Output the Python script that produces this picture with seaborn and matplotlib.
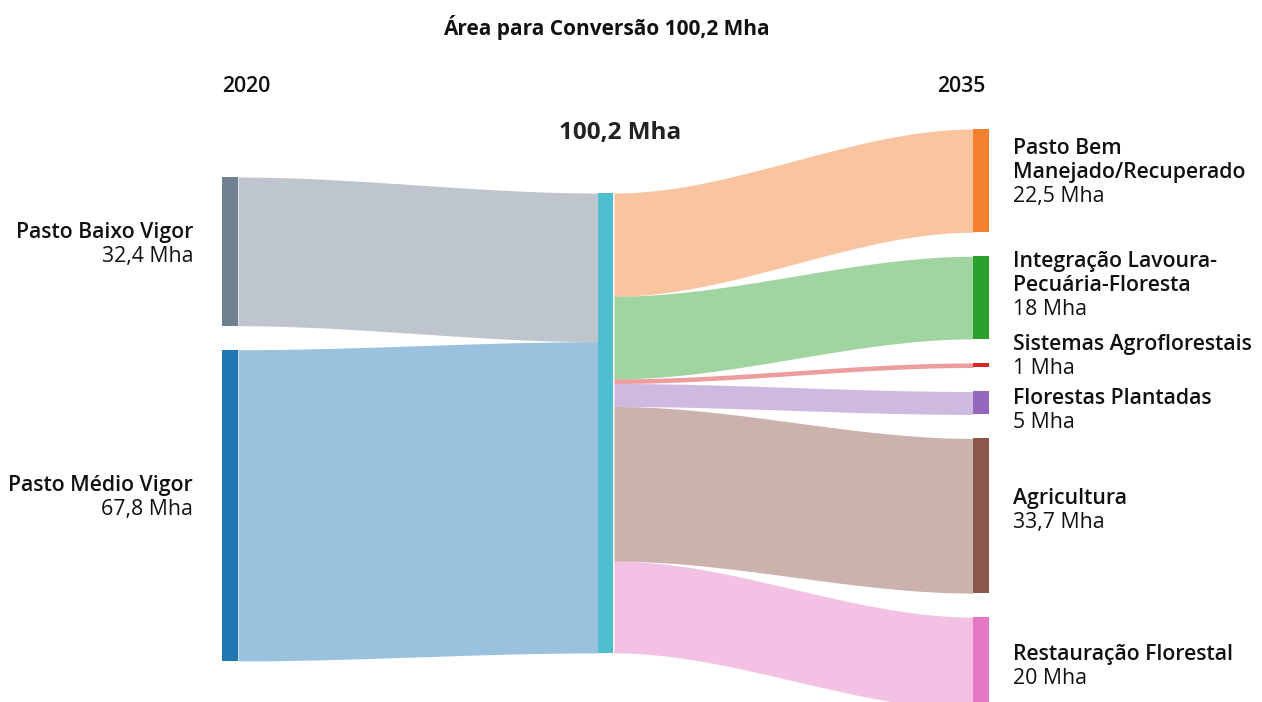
import numpy as np
import seaborn as sns
import matplotlib.pyplot as plt

# --- data (Mha) ---
title = "Área para Conversão 100,2 Mha"
year_labels = ["2020", "2035"]
total_label = "100,2 Mha"

source_labels = ["Pasto Baixo Vigor", "Pasto Médio Vigor"]
source_values = [32.4, 67.8]

target_labels = [
    "Pasto Bem\nManejado/Recuperado",
    "Integração Lavoura-\nPecuária-Floresta",
    "Sistemas Agroflorestais",
    "Florestas Plantadas",
    "Agricultura",
    "Restauração Florestal",
]
target_values = [22.5, 18, 1, 5, 33.7, 20]

# --- styling ---
tab = sns.color_palette("tab10")
source_colors = ["#708090", tab[0]]
center_color = "#4fbfd0"
target_colors = ["#f3802f", tab[2], tab[3], tab[4], tab[5], tab[6]]
flow_alpha = 0.45

W, H = 1262, 702
PX = 4.59                 # pixels per Mha
GAP = 24 / PX             # gap between nodes
NODE_W = 16
x_left, x_mid, x_right = 222, 598, 973
top_left, top_mid, top_right = 177 / PX, 193 / PX, 129 / PX
src_offsets = [-9, -10]                 # label block centre vs node centre (px)
tgt_offsets = [-10, -14, -11, 6, -7, 1]
LINE = 24 / PX
CAP = 15 / PX

sns.set_theme(style="white")
plt.rcParams["font.family"] = ["Open Sans", "DejaVu Sans"]
TXT = "#111111"
FS = 15.3


def fmt(v):
    return f"{v:g}".replace(".", ",") + " Mha"


def ribbon(ax, xa, xb, ya0, ya1, yb0, yb1, color):
    t = np.linspace(0, 1, 200)
    s = 3 * t ** 2 - 2 * t ** 3
    xs = xa + (xb - xa) * t
    top = ya0 + (yb0 - ya0) * s
    bot = ya1 + (yb1 - ya1) * s
    ax.fill_between(xs, top, bot, color=color, alpha=flow_alpha, lw=0)


def label(ax, x, yc, name, value, ha):
    lines = name.split("\n")
    n = len(lines) + 1
    b1 = yc + CAP / 2 - (n - 1) * LINE / 2
    for i, ln in enumerate(lines):
        ax.text(x, b1 + i * LINE, ln, ha=ha, va="baseline", fontsize=FS,
                fontweight="semibold", color=TXT)
    ax.text(x, b1 + len(lines) * LINE, value, ha=ha, va="baseline",
            fontsize=FS, color=TXT)


fig = plt.figure(figsize=(W / 100, H / 100), dpi=100)
ax = fig.add_axes([0, 0, 1, 1])
ax.set_xlim(0, W)
ax.set_ylim(H / PX, 0)
ax.axis("off")

# left -> centre
y_src = top_left
y_mid = top_mid
for i, v in enumerate(source_values):
    ribbon(ax, x_left + NODE_W, x_mid, y_src, y_src + v, y_mid, y_mid + v,
           source_colors[i])
    ax.bar(x_left, v, bottom=y_src, width=NODE_W, align="edge",
           color=source_colors[i], lw=0, zorder=3)
    label(ax, 193, y_src + v / 2 + src_offsets[i] / PX, source_labels[i],
          fmt(v), "right")
    y_src += v + GAP
    y_mid += v

# centre -> right
y_mid = top_mid
y_tgt = top_right
for i, v in enumerate(target_values):
    ribbon(ax, x_mid + NODE_W, x_right, y_mid, y_mid + v, y_tgt, y_tgt + v,
           target_colors[i])
    ax.bar(x_right, v, bottom=y_tgt, width=NODE_W, align="edge",
           color=target_colors[i], lw=0, zorder=3)
    label(ax, 1013, y_tgt + v / 2 + tgt_offsets[i] / PX, target_labels[i],
          fmt(v), "left")
    y_tgt += v + GAP
    y_mid += v

total = sum(source_values)
ax.bar(x_mid, total, bottom=top_mid, width=NODE_W - 1, align="edge",
       color=center_color, lw=0, zorder=3)

ax.text(x_mid + 22, 133 / PX, total_label, ha="center", va="center",
        fontsize=17.5, fontweight="bold", color="#222222")
ax.text(606, 28 / PX, title, ha="center", va="center", fontsize=15,
        fontweight="bold", color=TXT)
ax.text(x_left, 87 / PX, year_labels[0], ha="left", va="center", fontsize=FS,
        fontweight="semibold", color=TXT)
ax.text(x_right + NODE_W - 3, 87 / PX, year_labels[1], ha="right", va="center",
        fontsize=FS, fontweight="semibold", color=TXT)

fig.savefig("out.png", dpi=100, facecolor="white")
